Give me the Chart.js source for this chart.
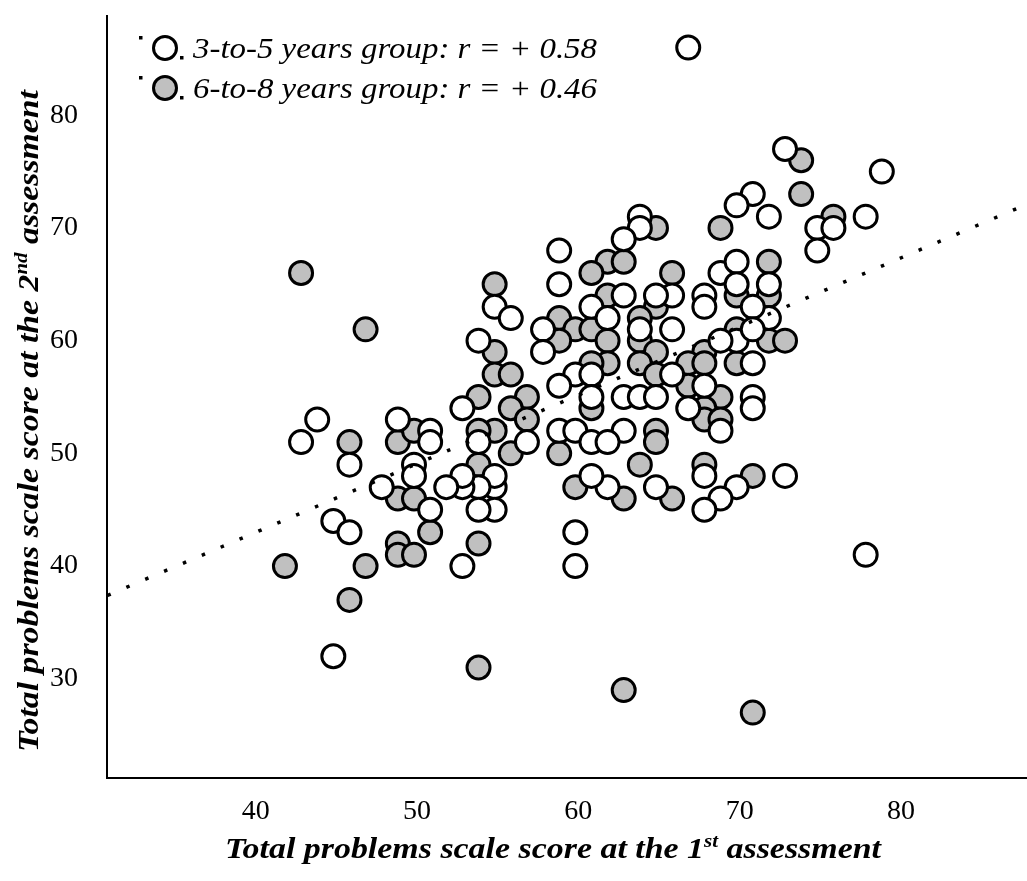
<!DOCTYPE html>
<html>
<head>
<meta charset="utf-8">
<script src="https://cdn.jsdelivr.net/npm/chart.js@4/dist/chart.umd.min.js"></script>
<style>
html, body { margin: 0; padding: 0; background: #fff; overflow: hidden; }
#wrap { width: 1027px; height: 881px; }
#scatter { display: block; }
</style>
</head>
<body>
<div id="wrap"><canvas id="scatter" width="1027" height="881"></canvas></div>
<script>
// 3-to-5 years group (white markers)
const youngX = [67,73,79,71,70,72,75,76,78,75, 64,64,63,59,59,55,56,69,70,70,
                72,66,68,68,63,65,61,62,72,71, 64,66,58,70,69,71,54,58,71,66,
                60,61,59,68,61,63,64,65,71,71, 67,53,69,59,60,63,57,61,62,54,
                68,73,70,69,68,65,62,61,55,55, 54,53,53,55,54,44,43,46,49,51,
                51,50,50,48,52,51,45,46,53,60, 60,45,78];
const youngY = [86,77,75,73,72,71,70,70,71,68, 71,70,69,68,65,63,62,66,67,65,
                65,64,64,63,64,64,63,62,62,63, 61,61,61,60,60,61,60,59,58,57,
                57,57,56,56,55,55,55,55,55,54, 54,54,52,52,52,52,51,51,51,51,
                48,48,47,46,45,47,47,48,47,48, 47,47,48,45,45,53,51,49,53,52,
                51,49,48,47,47,45,44,43,40,43, 40,32,41];

// 6-to-8 years group (grey markers)
const olderX = [74,74,69,76,65,62,63,61,66,72, 55,62,65,70,72,59,60,61,64,70,
                55,59,62,64,72,73,68,65,62,61, 64,67,68,70,55,56,65,67,69,54,
                57,56,61,68,57,68,69,55,54,65, 65,56,59,54,64,68,71,60,63,66,
                43,47,46,49,50,49,50,51,49,49, 50,54,42,47,46,54,63,71];
const olderY = [76,73,70,71,70,67,67,66,66,67, 65,64,63,64,64,62,61,61,62,61,
                59,60,60,60,60,60,59,59,58,58, 58,58,58,58,57,57,57,56,55,55,
                55,54,54,54,53,53,53,52,52,52, 51,50,50,49,49,49,48,47,46,46,
                66,61,51,51,52,46,46,43,42,41, 41,42,40,40,37,31,29,27];

// dotted fit line end points
const fitX = [31, 88];
const fitY = [37.4, 72.1];

const xTicks = [40, 50, 60, 70, 80];
const yTicks = [30, 40, 50, 60, 70, 80];
const legendLabels = ['3-to-5 years group: r = + 0.58', '6-to-8 years group: r = + 0.46'];
const legendFills = ['#ffffff', '#c0c0c0'];

const toPoints = (xs, ys) => xs.map((x, i) => ({ x: x, y: ys[i] }));

const SERIF = '"Liberation Serif", "Times New Roman", serif';

// text squeezed/stretched to a given width, with an optional superscript part
function drawFitted(ctx, parts, size, targetW) {
    let w = 0;
    parts.forEach(p => {
        ctx.font = 'bold italic ' + (p.sup ? size * 0.62 : size) + 'px ' + SERIF;
        p.w = ctx.measureText(p.t).width;
        w += p.w;
    });
    ctx.save();
    ctx.scale(targetW / w, 1);
    let x = -w / 2;
    parts.forEach(p => {
        ctx.font = 'bold italic ' + (p.sup ? size * 0.62 : size) + 'px ' + SERIF;
        ctx.fillText(p.t, x, p.sup ? -size * 0.38 : 0);
        x += p.w;
    });
    ctx.restore();
}

const decorations = {
    id: 'decorations',
    afterDraw(chart) {
        const ctx = chart.ctx;
        ctx.save();
        ctx.fillStyle = '#000';
        ctx.textBaseline = 'alphabetic';

        // x title
        ctx.save();
        ctx.translate(553, 858);
        drawFitted(ctx, [
            { t: 'Total problems scale score at the 1' },
            { t: 'st', sup: true },
            { t: ' assessment' }
        ], 30, 656);
        ctx.restore();

        // y title
        ctx.save();
        ctx.translate(38, 421);
        ctx.rotate(-Math.PI / 2);
        drawFitted(ctx, [
            { t: 'Total problems scale score at the 2' },
            { t: 'nd', sup: true },
            { t: ' assessment' }
        ], 30, 662);
        ctx.restore();

        // legend: dotted-line sample + marker + label
        const rows = [48, 88];
        rows.forEach((cy, i) => {
            ctx.fillStyle = '#000';
            ctx.fillRect(139, cy - 12, 3.5, 3.5);
            ctx.fillRect(180, cy + 8, 3.5, 3.5);
            ctx.beginPath();
            ctx.arc(165, cy, 11.5, 0, Math.PI * 2);
            ctx.fillStyle = legendFills[i];
            ctx.fill();
            ctx.lineWidth = 3;
            ctx.strokeStyle = '#000';
            ctx.stroke();
            ctx.fillStyle = '#000';
            ctx.save();
            ctx.translate(193, cy + 10);
            ctx.font = 'italic 30px ' + SERIF;
            const w = ctx.measureText(legendLabels[i]).width;
            ctx.scale(404 / w, 1);
            ctx.fillText(legendLabels[i], 0, 0);
            ctx.restore();
        });
        ctx.restore();
    }
};

const markerStyle = {
    showLine: false,
    pointRadius: 11.5,
    pointHoverRadius: 11.5,
    pointBorderWidth: 3,
    pointBorderColor: '#000',
    pointStyle: 'circle'
};

new Chart(document.getElementById('scatter'), {
    type: 'scatter',
    data: {
        datasets: [
            {
                label: 'fit',
                type: 'line',
                data: toPoints(fitX, fitY),
                borderColor: '#000',
                borderWidth: 3.5,
                borderDash: [3.5, 17],
                pointRadius: 0,
                fill: false,
                order: 0
            },
            Object.assign({
                label: legendLabels[0],
                data: toPoints(youngX, youngY),
                pointBackgroundColor: legendFills[0],
                order: 1
            }, markerStyle),
            Object.assign({
                label: legendLabels[1],
                data: toPoints(olderX, olderY),
                pointBackgroundColor: legendFills[1],
                order: 2
            }, markerStyle)
        ]
    },
    options: {
        responsive: false,
        devicePixelRatio: 1,
        animation: false,
        layout: { autoPadding: false, padding: { top: 16, left: 0, right: 0, bottom: 0 } },
        plugins: {
            legend: { display: false },
            tooltip: { enabled: false }
        },
        scales: {
            x: {
                type: 'linear',
                min: 30.97,
                max: 88.0,
                afterBuildTicks: s => { s.ticks = xTicks.map(v => ({ value: v })); },
                afterFit: s => { s.height = 103; s.paddingLeft = 0; s.paddingRight = 0; },
                grid: { display: false, drawTicks: false },
                border: { display: true, color: '#000', width: 2 },
                ticks: {
                    color: '#000',
                    padding: 17,
                    labelOffset: 3,
                    font: { family: SERIF, size: 28 }
                }
            },
            y: {
                type: 'linear',
                min: 21.2,
                max: 88.8,
                afterBuildTicks: s => { s.ticks = yTicks.map(v => ({ value: v })); },
                afterFit: s => { s.width = 107; s.paddingTop = 0; s.paddingBottom = 0; },
                grid: { display: false, drawTicks: false },
                border: { display: true, color: '#000', width: 2 },
                ticks: {
                    color: '#000',
                    padding: 29,
                    font: { family: SERIF, size: 28 }
                }
            }
        }
    },
    plugins: [decorations]
});
</script>
</body>
</html>
